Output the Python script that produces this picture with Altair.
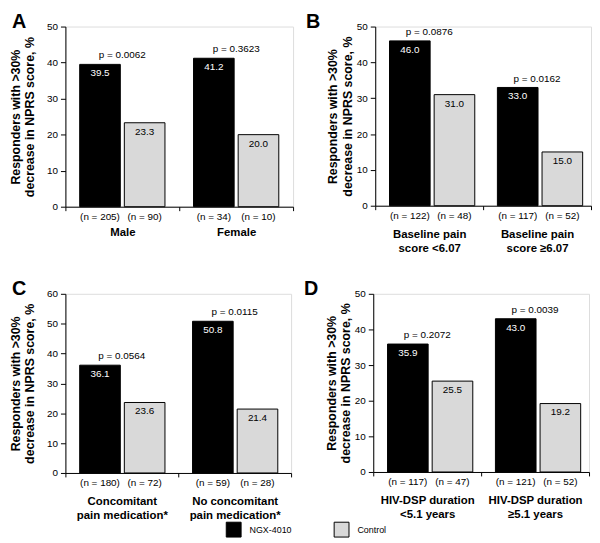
import altair as alt
import pandas as pd

FONT = "Liberation Sans"
SERIES = ["NGX-4010", "Control"]

# Panel data
letters = ["A", "B", "C", "D"]
groups = [
    ["Male", "Female"],
    ["Baseline pain\nscore <6.07", "Baseline pain\nscore \u22656.07"],
    ["Concomitant\npain medication*", "No concomitant\npain medication*"],
    ["HIV-DSP duration\n<5.1 years", "HIV-DSP duration\n\u22655.1 years"],
]
ngx_values = [[39.5, 41.2], [46.0, 33.0], [36.1, 50.8], [35.9, 43.0]]
ctrl_values = [[23.3, 20.0], [31.0, 15.0], [23.6, 21.4], [25.5, 19.2]]
ngx_n = [[205, 34], [122, 117], [180, 59], [117, 121]]
ctrl_n = [[90, 10], [48, 52], [72, 28], [47, 52]]
p_values = [["0.0062", "0.3623"], ["0.0876", "0.0162"], ["0.0564", "0.0115"], ["0.2072", "0.0039"]]
y_max = [50, 50, 60, 50]
y_ticks = [[0, 10, 20, 30, 40, 50], [0, 10, 20, 30, 40, 50],
           [0, 10, 20, 30, 40, 50, 60], [0, 10, 20, 30, 40, 50]]

widths = [230, 218, 228, 218]
heights = [182, 181, 181, 180]
title_pad = [10, 2, 10, 2]
letter_x = [-54, -70, -54, -70]
letter_y = [-15, -15, -15, -15]
label_pad = [16, 19, 19, 19]

Y_TITLE = ["Responders with >30%", "decrease in NPRS score, %"]


def panel(i, legend):
    g = groups[i]
    rows = []
    for j, grp in enumerate(g):
        rows.append(dict(group=grp, series="NGX-4010", value=ngx_values[i][j],
                         n=f"(n = {ngx_n[i][j]})", tc="white"))
        rows.append(dict(group=grp, series="Control", value=ctrl_values[i][j],
                         n=f"(n = {ctrl_n[i][j]})", tc="black"))
    df = pd.DataFrame(rows)
    pdf = pd.DataFrame(dict(group=g, p=[f"p = {p}" for p in p_values[i]],
                            value=[max(ngx_values[i][j], ctrl_values[i][j]) for j in range(2)]))
    w, h = widths[i], heights[i]

    xenc = alt.X("group:N", sort=g, title=None,
                 scale=alt.Scale(paddingInner=0, paddingOuter=0),
                 axis=alt.Axis(labelExpr="split(datum.label, '\\n')", labelFontWeight="bold",
                               labelFontSize=11.5, labelPadding=label_pad[i], labelLineHeight=14,
                               tickBand="extent", tickSize=4, labelAngle=0,
                               domainColor="black", tickColor="black", labelColor="black",
                               labelFont=FONT))
    xoff = alt.XOffset("series:N", sort=SERIES,
                       scale=alt.Scale(paddingInner=0.09, paddingOuter=0.32))
    yenc = alt.Y("value:Q", scale=alt.Scale(domain=[0, y_max[i]], nice=False),
                 title=Y_TITLE,
                 axis=alt.Axis(values=y_ticks[i], grid=False, tickSize=5, labelPadding=3,
                               labelFontSize=10, titleFontSize=12.5, titleFontWeight="bold",
                               titlePadding=title_pad[i], domainColor="black",
                               tickColor="black", labelColor="black", titleColor="black",
                               labelFont=FONT, titleFont=FONT, labelOverlap=False))

    if legend:
        leg = alt.Legend(title=None, orient="none", direction="horizontal",
                         legendX=162, legendY=500, symbolType="square", padding=0,
                         symbolSize=225, symbolStrokeColor="black",
                         symbolStrokeWidth=1, labelFontSize=9,
                         labelFont=FONT, labelColor="black",
                         columnPadding=40, labelOffset=8)
    else:
        leg = None

    base = alt.Chart(df).encode(x=xenc, xOffset=xoff, y=yenc)
    bars = base.mark_bar(stroke="black", strokeWidth=1).encode(
        color=alt.Color("series:N", sort=SERIES,
                        scale=alt.Scale(domain=SERIES, range=["#000000", "#d9d9d9"]),
                        legend=leg),
    )
    vals = base.mark_text(baseline="top", dy=4, fontSize=10, font=FONT).encode(
        text=alt.Text("value:Q", format=".1f"),
        color=alt.Color("tc:N", scale=None),
    )
    ns = alt.Chart(df).mark_text(baseline="middle", fontSize=10, font=FONT,
                                 color="black").encode(
        x=xenc, xOffset=xoff, y=alt.value(h + 10), text="n:N"
    )
    ps = alt.Chart(pdf).mark_text(baseline="bottom", dy=-4, fontSize=10, font=FONT,
                                  color="black").encode(
        x=xenc, y=yenc, text="p:N"
    )
    let = alt.Chart(pd.DataFrame(dict(t=[letters[i]]))).mark_text(
        align="left", baseline="top", fontSize=20, fontWeight="bold", font=FONT, color="black"
    ).encode(x=alt.value(letter_x[i]), y=alt.value(letter_y[i]), text="t:N")

    return alt.layer(bars, vals, ns, ps, let).properties(width=w, height=h)


row1 = alt.hconcat(panel(0, True), panel(1, False), spacing=11)
row2 = alt.hconcat(panel(2, False), panel(3, False), spacing=11)

chart = alt.vconcat(row1, row2, spacing=24).configure_view(
    stroke=None
).properties(padding={"left": 0, "top": 0, "right": 0, "bottom": 0}).configure(font=FONT)

chart.save("out.html", embed_options={"renderer": "svg", "actions": False})
